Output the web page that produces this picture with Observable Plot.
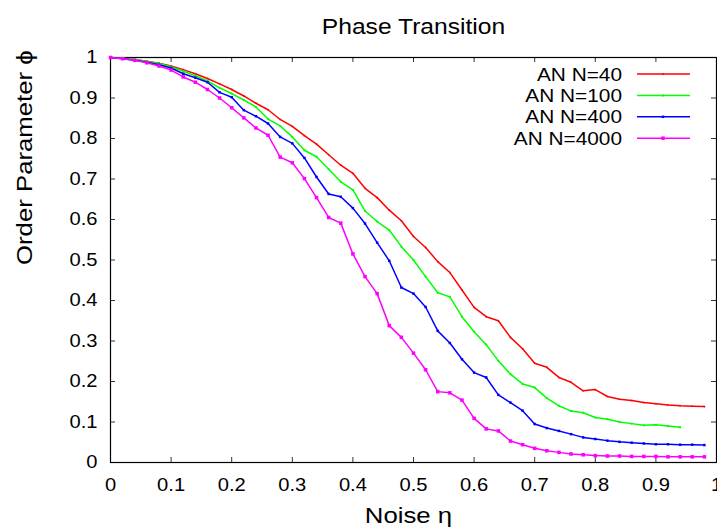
<!DOCTYPE html>
<html>
<head>
<meta charset="utf-8">
<script src="https://cdn.jsdelivr.net/npm/d3@7"></script>
<script src="https://cdn.jsdelivr.net/npm/@observablehq/plot@0.6"></script>
<style>
  html, body { margin: 0; padding: 0; background: #fff; }
</style>
</head>
<body>
<div id="chart"></div>
<script>
// Noise values η at which the order parameter was sampled
const eta = [
  0.00, 0.02, 0.04, 0.06, 0.08, 0.10, 0.12, 0.14, 0.16, 0.18,
  0.20, 0.22, 0.24, 0.26, 0.28, 0.30, 0.32, 0.34, 0.36, 0.38,
  0.40, 0.42, 0.44, 0.46, 0.48, 0.50, 0.52, 0.54, 0.56, 0.58,
  0.60, 0.62, 0.64, 0.66, 0.68, 0.70, 0.72, 0.74, 0.76, 0.78,
  0.80, 0.82, 0.84, 0.86, 0.88, 0.90, 0.92, 0.94, 0.96, 0.98
];

// Order parameter φ for each system size
const phiN40 = [
  1.000, 0.998, 0.995, 0.991, 0.986, 0.979, 0.970, 0.960, 0.948, 0.935,
  0.921, 0.905, 0.887, 0.871, 0.847, 0.830, 0.807, 0.786, 0.760, 0.734,
  0.714, 0.677, 0.654, 0.623, 0.597, 0.558, 0.531, 0.496, 0.469, 0.426,
  0.383, 0.360, 0.350, 0.309, 0.281, 0.245, 0.235, 0.210, 0.198, 0.177,
  0.180, 0.163, 0.156, 0.153, 0.148, 0.145, 0.142, 0.140, 0.139, 0.138
];
const phiN100 = [
  1.000, 0.998, 0.995, 0.990, 0.985, 0.977, 0.966, 0.955, 0.942, 0.925,
  0.911, 0.895, 0.878, 0.848, 0.831, 0.804, 0.771, 0.755, 0.724, 0.693,
  0.673, 0.621, 0.595, 0.574, 0.533, 0.500, 0.459, 0.419, 0.409, 0.360,
  0.323, 0.291, 0.251, 0.218, 0.194, 0.185, 0.159, 0.140, 0.127, 0.123,
  0.111, 0.107, 0.100, 0.096, 0.092, 0.093, 0.090, 0.087
];
const phiN400 = [
  1.000, 0.997, 0.993, 0.988, 0.982, 0.974, 0.960, 0.950, 0.939, 0.914,
  0.902, 0.870, 0.855, 0.837, 0.804, 0.788, 0.752, 0.705, 0.663, 0.656,
  0.628, 0.590, 0.543, 0.498, 0.432, 0.417, 0.384, 0.325, 0.295, 0.255,
  0.222, 0.210, 0.167, 0.148, 0.128, 0.095, 0.085, 0.078, 0.070, 0.062,
  0.058, 0.054, 0.051, 0.049, 0.047, 0.045, 0.045, 0.044, 0.044, 0.043
];
const phiN4000 = [
  1.000, 0.997, 0.993, 0.987, 0.979, 0.969, 0.952, 0.939, 0.921, 0.900,
  0.876, 0.851, 0.826, 0.808, 0.754, 0.740, 0.701, 0.654, 0.605, 0.591,
  0.515, 0.459, 0.417, 0.338, 0.309, 0.270, 0.229, 0.175, 0.172, 0.154,
  0.109, 0.083, 0.078, 0.053, 0.044, 0.035, 0.029, 0.025, 0.021, 0.019,
  0.017, 0.016, 0.016, 0.015, 0.015, 0.015, 0.014, 0.014, 0.014, 0.014
];

const seriesNames = ["AN N=40", "AN N=100", "AN N=400", "AN N=4000"];
const seriesValues = [phiN40, phiN100, phiN400, phiN4000];
const seriesColors = ["#ff0000", "#00ff00", "#0000ff", "#ff00ff"];

const xTicks = [0, 0.1, 0.2, 0.3, 0.4, 0.5, 0.6, 0.7, 0.8, 0.9, 1];
const yTicks = [0, 0.1, 0.2, 0.3, 0.4, 0.5, 0.6, 0.7, 0.8, 0.9, 1];

const titleText = "Phase Transition";
const xLabel = "Noise η";
const yLabel = "Order Parameter ϕ";

// Layout
const W = 717, H = 527;
const mL = 110, mR = 1, mT = 57, mB = 65;
const plotW = W - mL - mR, plotH = H - mT - mB;
const tickLen = 5;
const markerR = [0.9, 1.1, 1.4, 2.0];
const fontFamily = "'Liberation Sans', Arial, Helvetica, sans-serif";

// Long table built from the arrays
const rows = seriesNames.flatMap((name, s) =>
  seriesValues[s].map((phi, i) => ({eta: eta[i], phi, series: name}))
);

// Legend in the upper right corner of the frame
function legend(index, scales, values, dims) {
  const g = d3.create("svg:g")
    .attr("font-family", fontFamily)
    .attr("font-size", 18.6)
    .attr("fill", "black");
  const right = dims.width - dims.marginRight;
  seriesNames.forEach((name, i) => {
    const y = dims.marginTop + 17 + i * 21.4;
    const c = scales.color(name);
    g.append("text")
      .attr("x", right - 94).attr("y", y).attr("dy", "0.35em")
      .attr("text-anchor", "end").text(name);
    g.append("line")
      .attr("x1", right - 79).attr("x2", right - 26)
      .attr("y1", y).attr("y2", y)
      .attr("stroke", c).attr("stroke-width", 1.5);
    const side = markerR[i] * Math.sqrt(Math.PI);
    g.append("rect")
      .attr("x", right - 53 - side / 2).attr("y", y - side / 2)
      .attr("width", side).attr("height", side).attr("fill", c);
  });
  return g.node();
}

const fmt = d => String(+d.toFixed(2));

const plot = Plot.plot({
  width: W,
  height: H,
  marginLeft: mL,
  marginRight: mR,
  marginTop: mT,
  marginBottom: mB,
  style: {background: "white", color: "black", fontFamily, fontSize: "18px"},
  x: {domain: [0, 1], ticks: xTicks, tickFormat: fmt, tickSize: 0, tickPadding: 16, label: null},
  y: {domain: [0, 1], ticks: yTicks, tickFormat: fmt, tickSize: 0, tickPadding: 13, label: null},
  color: {domain: seriesNames, range: seriesColors},
  marks: [
    // inward ticks on all four sides
    Plot.ruleX(xTicks, {x: d => d, insetTop: plotH - tickLen, stroke: "#333"}),
    Plot.ruleX(xTicks, {x: d => d, insetBottom: plotH - tickLen, stroke: "#333"}),
    Plot.ruleY(yTicks, {y: d => d, insetRight: plotW - tickLen, stroke: "#333"}),
    Plot.ruleY(yTicks, {y: d => d, insetLeft: plotW - tickLen, stroke: "#333"}),
    Plot.frame({stroke: "black", strokeWidth: 1.2}),
    ...seriesNames.flatMap((name, s) => {
      const data = rows.filter(d => d.series === name);
      return [
        Plot.line(data, {x: "eta", y: "phi", stroke: "series", strokeWidth: 1.5}),
        Plot.dot(data, {x: "eta", y: "phi", fill: "series", symbol: "square", r: markerR[s]})
      ];
    }),
    legend,
    Plot.text([titleText], {text: d => d, frameAnchor: "top", lineAnchor: "bottom", dy: -24, fontSize: 22, fill: "black"}),
    Plot.text([xLabel], {text: d => d, frameAnchor: "bottom", lineAnchor: "bottom", dy: 60, dx: -5, fontSize: 23, fill: "black"}),
    Plot.text([yLabel], {text: d => d, frameAnchor: "left", lineAnchor: "bottom", rotate: -90, dx: -79, dy: 5, fontSize: 23, fill: "black"})
  ]
});

document.getElementById("chart").appendChild(plot);

// Glyphs in this chart are drawn slightly wide; stretch each label about its anchor
function widenText(svg, s) {
  svg.querySelectorAll("text").forEach(el => {
    const b = el.getBBox();
    const anchor = getComputedStyle(el).textAnchor;
    const ax = anchor === "end" ? b.x + b.width : anchor === "middle" ? b.x + b.width / 2 : b.x;
    const t = el.getAttribute("transform") || "";
    el.setAttribute("transform", `${t} translate(${ax},0) scale(${s},1) translate(${-ax},0)`);
  });
}
widenText(plot, 1.12);
</script>
</body>
</html>
